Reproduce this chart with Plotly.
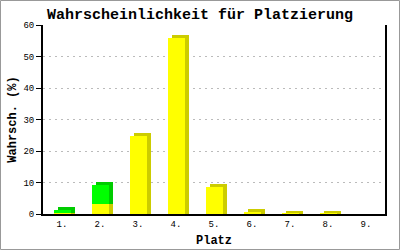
import plotly.graph_objects as go

categories = ["1.", "2.", "3.", "4.", "5.", "6.", "7.", "8.", "9."]
yellow_vals = [0.3, 3.2, 24.8, 55.9, 8.6, 0.6, 0.08, 0.08, 0.0]
green_vals = [0.9, 6.0, 0.0, 0.0, 0.0, 0.0, 0.0, 0.0, 0.0]

# geometry of the pseudo-3D bars (category units / value units)
FRONT_W = 17 / 38
FRONT_OFF = -8 / 38
DX = 4 / 38
DY = 3 / 3.15

fig = go.Figure()
zeros = [0] * len(categories)

# yellow segment: side/back face then front face
side_y = [v + DY if v > 0 else 0 for v in yellow_vals]
fig.add_trace(go.Bar(x=categories, y=side_y, base=zeros, offset=FRONT_OFF + DX,
                     width=FRONT_W, marker=dict(color="#CCCC00", line=dict(width=0)),
                     hoverinfo="skip", showlegend=False))
fig.add_trace(go.Bar(x=categories, y=yellow_vals, base=zeros, offset=FRONT_OFF,
                     width=FRONT_W, marker=dict(color="#FFFF00", line=dict(width=0)),
                     showlegend=False))
# green segment stacked on yellow
green_base = yellow_vals
side_g = [v + DY if v > 0 else 0 for v in green_vals]
fig.add_trace(go.Bar(x=categories, y=side_g, base=green_base, offset=FRONT_OFF + DX,
                     width=FRONT_W, marker=dict(color="#00CC00", line=dict(width=0)),
                     hoverinfo="skip", showlegend=False))
fig.add_trace(go.Bar(x=categories, y=green_vals, base=green_base, offset=FRONT_OFF,
                     width=FRONT_W, marker=dict(color="#00FF00", line=dict(width=0)),
                     showlegend=False))

L, R, T, B = 43, 15, 25, 36
PW, PH = 400 - L - R, 250 - T - B

fig.update_layout(
    width=400, height=250,
    margin=dict(l=L, r=R, t=T, b=B, pad=0, autoexpand=False),
    paper_bgcolor="white", plot_bgcolor="white",
    barmode="overlay", bargap=0,
    title=dict(text="<b>Wahrscheinlichkeit für Platzierung</b>", x=0.5, xanchor="center",
               y=1 - 14 / 250, yanchor="middle",
               font=dict(family="Liberation Mono", size=15, color="black")),
    font=dict(family="Liberation Mono", color="black"),
    xaxis=dict(type="category", range=[-0.5, 8.5], showline=True, linecolor="black",
               linewidth=2, ticks="", showgrid=False, zeroline=False, automargin=False,
               tickfont=dict(family="Liberation Mono", size=9),
               title=dict(text="<b>Platz</b>", font=dict(family="Liberation Mono", size=12),
                          standoff=7)),
    yaxis=dict(range=[0, 60], dtick=10, showline=True, linecolor="black", linewidth=2,
               mirror=True, ticks="outside", ticklen=5, tickcolor="black",
               showgrid=True, gridcolor="#BBBBBB", griddash="2px,4px", gridwidth=1,
               zeroline=False, automargin=False, tickfont=dict(family="Liberation Mono", size=9),
               title=dict(text="<b>Wahrsch. (%)</b>", font=dict(family="Liberation Mono", size=12),
                          standoff=4)),
    shapes=[dict(type="rect", xref="paper", yref="paper",
                 x0=(0.5 - L) / PW, x1=(399.5 - L) / PW,
                 y0=(214 - 249.5) / PH, y1=(214 - 0.5) / PH,
                 line=dict(color="#999999", width=1), fillcolor="rgba(0,0,0,0)", layer="below")],
)

fig.write_html("out.html")
